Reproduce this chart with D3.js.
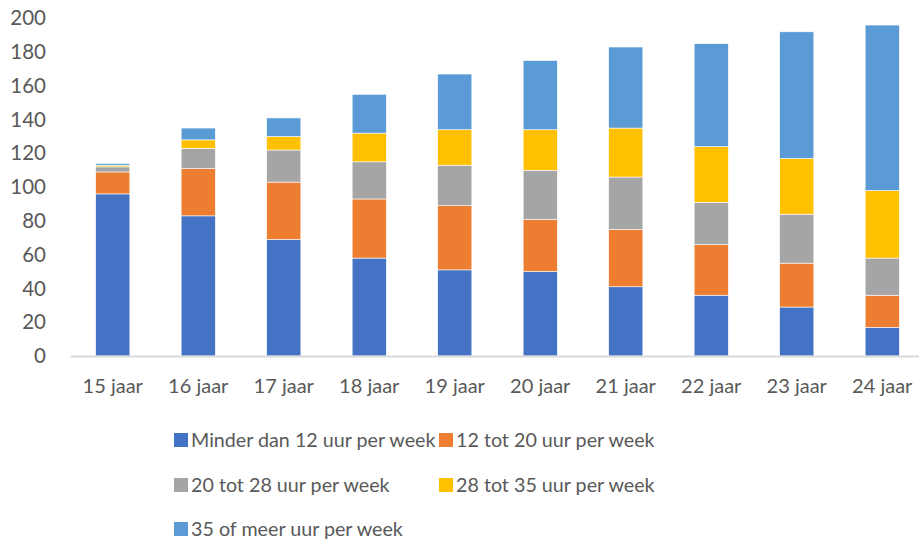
<!DOCTYPE html>
<html><head><meta charset="utf-8">
<script src="https://cdn.jsdelivr.net/npm/d3@7/dist/d3.min.js"></script>
<style>body{margin:0;background:#fff}svg{display:block}</style>
</head><body>
<svg id="c" width="919" height="542"></svg>
<script>
const categories = ["15 jaar","16 jaar","17 jaar","18 jaar","19 jaar","20 jaar","21 jaar","22 jaar","23 jaar","24 jaar"];
const seriesNames = ["Minder dan 12 uur per week","12 tot 20 uur per week","20 tot 28 uur per week","28 tot 35 uur per week","35 of meer uur per week"];
const colors = ["#4472C4","#ED7D31","#A5A5A5","#FFC000","#5B9BD5"];
const minder12 = [96,83,69,58,51,50,41,36,29,17];
const tot20    = [13,28,34,35,38,31,34,30,26,19];
const tot28    = [3,12,19,22,24,29,31,25,29,22];
const tot35    = [1,5,8,17,21,24,29,33,33,40];
const meer35   = [1,7,11,23,33,41,48,61,75,98];
const yTicks = [0,20,40,60,80,100,120,140,160,180,200];

const seriesValues = [minder12,tot20,tot28,tot35,meer35];
const rows = categories.map((c,i)=>{const r={cat:c};seriesNames.forEach((s,j)=>r[s]=seriesValues[j][i]);return r;});
const stack = d3.stack().keys(seriesNames)(rows);

const svg = d3.select("#c");
const font = "Lato, 'Open Sans', sans-serif";
const x = d3.scaleBand().domain(categories).range([70,925]).paddingInner(0.6).paddingOuter(0.3);
const y = d3.scaleLinear().domain([0,200]).range([356,18.3]);

// y labels
const yAxis = svg.append("g").attr("transform","translate(46,0)")
  .call(d3.axisLeft(y).tickValues(yTicks).tickSize(0).tickPadding(0));
yAxis.select(".domain").remove();
yAxis.selectAll("text").attr("font-family",font).attr("font-size",20.5).attr("fill","#595959");

// bars
svg.append("g").selectAll("g").data(stack).join("g").attr("fill",(d,i)=>colors[i])
  .selectAll("rect").data(d=>d).join("rect")
  .attr("x",d=>x(d.data.cat)).attr("width",x.bandwidth())
  .attr("y",d=>y(d[1])).attr("height",d=>y(d[0])-y(d[1]))
  .attr("stroke","#fff").attr("stroke-width",0.6);

// x axis
const xAxis = svg.append("g").attr("transform","translate(0,356)")
  .call(d3.axisBottom(x).tickSize(0).tickPadding(23));
xAxis.select(".domain").attr("stroke","#d9d9d9").attr("stroke-width",2);
xAxis.selectAll("text").attr("font-family",font).attr("font-size",20).attr("fill","#595959");

// legend
const legPos = [[174,440],[439,440],[174,485],[439,485],[174,529]];
const leg = svg.append("g").selectAll("g").data(seriesNames).join("g")
  .attr("transform",(d,i)=>`translate(${legPos[i][0]},${legPos[i][1]})`);
leg.append("rect").attr("x",0).attr("y",-7).attr("width",14).attr("height",14).attr("fill",(d,i)=>colors[i]);
leg.append("text").attr("x",17).attr("y",0).attr("dy","0.35em").text(d=>d)
  .attr("font-family",font).attr("font-size",19.7).attr("fill","#595959");
</script>
</body></html>
